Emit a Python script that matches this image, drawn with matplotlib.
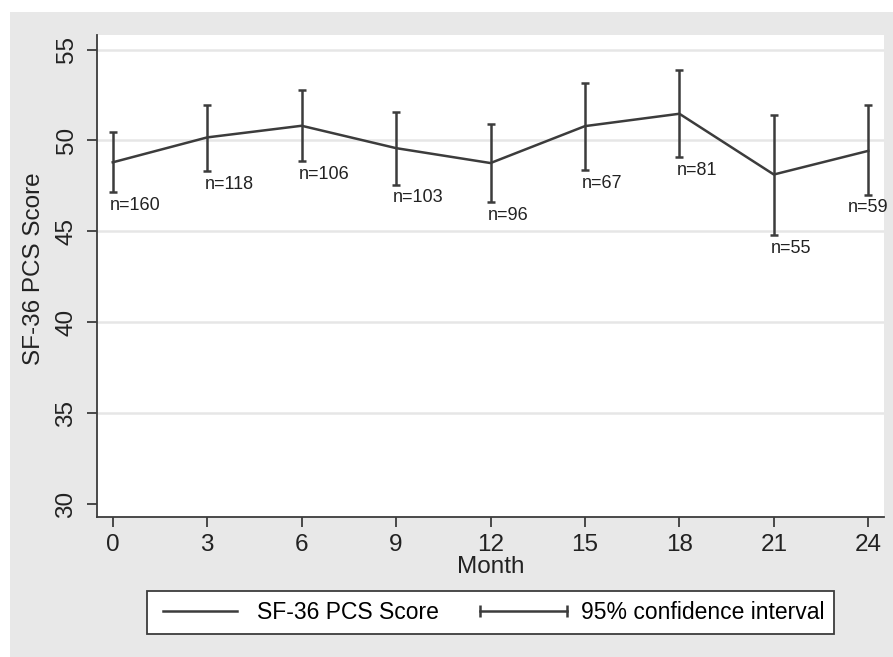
import matplotlib.pyplot as plt
from matplotlib.lines import Line2D
from matplotlib.patches import Rectangle
from matplotlib.legend_handler import HandlerLine2D

plt.rcParams['font.family'] = ['Liberation Sans', 'DejaVu Sans']

months = [0, 3, 6, 9, 12, 15, 18, 21, 24]
pcs_mean = [48.8, 50.17, 50.81, 49.58, 48.76, 50.79, 51.47, 48.13, 49.43]
ci_low = [47.16, 48.30, 48.88, 47.57, 46.62, 48.37, 49.07, 44.78, 47.02]
ci_high = [50.44, 51.96, 52.80, 51.59, 50.90, 53.17, 53.87, 51.40, 51.95]
n_obs = [160, 118, 106, 103, 96, 67, 81, 55, 59]
y_ticks = [30, 35, 40, 45, 50, 55]

dark = '#3c3c3c'
bg = '#e8e8e8'

fig = plt.figure(figsize=(8.93, 6.57), dpi=100, facecolor='white')
fig.patches.append(Rectangle((10 / 893, 0), 1, 1 - 12 / 657, transform=fig.transFigure,
                             facecolor=bg, edgecolor='none', zorder=-10))
ax = fig.add_axes([97 / 893, 1 - 517 / 657, (884 - 97) / 893, (517 - 35) / 657])
ax.set_facecolor('white')

for yv in y_ticks[1:]:
    ax.axhline(yv, color='#e6e6e6', lw=1.8, zorder=0)

lower = [m - lo for m, lo in zip(pcs_mean, ci_low)]
upper = [hi - m for m, hi in zip(pcs_mean, ci_high)]
ax.plot(months, pcs_mean, color=dark, lw=1.8, zorder=3)
ax.errorbar(months, pcs_mean, yerr=[lower, upper], fmt='none', ecolor=dark,
            elinewidth=1.8, capsize=3, capthick=1.8, zorder=3)

for i, (m, lo, n) in enumerate(zip(months, ci_low, n_obs)):
    dx = -15 if i == len(months) - 1 else -2
    ax.annotate(f'n={n}', (m, lo), xytext=(dx, -9.5), textcoords='offset points',
                ha='left', va='center', fontsize=13, color='#222222')

ax.set_xlim(-0.5, 24.5)
ax.set_ylim(29.3, 55.8)
ax.set_xticks(months)
ax.set_yticks(y_ticks)
ax.tick_params(axis='both', colors=dark, labelcolor='#222222', labelsize=17.5,
               length=7, width=1.3)
ax.tick_params(axis='x', pad=5)
ax.tick_params(axis='y', labelrotation=90, pad=7)
for lab in ax.get_yticklabels():
    lab.set_va('center')

for side in ['top', 'right']:
    ax.spines[side].set_visible(False)
for side in ['left', 'bottom']:
    ax.spines[side].set_color(dark)
    ax.spines[side].set_linewidth(1.3)

ax.set_xlabel('Month', fontsize=17.5, color='#222222', labelpad=0)
ax.set_ylabel('SF-36 PCS Score', fontsize=17.5, color='#222222')
ax.yaxis.set_label_coords(-0.066, 0.515)

line_handle = Line2D([], [], color=dark, lw=1.8)
ci_handle = Line2D([], [], color=dark, lw=1.8, marker='|', markersize=9, markeredgewidth=1.8)
leg = fig.legend([line_handle, ci_handle], ['SF-36 PCS Score', '95% confidence interval'],
                 loc='center', bbox_to_anchor=(490.5 / 893, 1 - 612.5 / 657), ncol=2,
                 fontsize=16.5, frameon=True, fancybox=False, numpoints=2,
                 handlelength=3.8, handletextpad=0.6, columnspacing=1.8,
                 borderpad=0.42, handler_map={ci_handle: HandlerLine2D(marker_pad=0)})
leg.get_frame().set_edgecolor(dark)
leg.get_frame().set_linewidth(1.3)
leg.get_frame().set_facecolor('white')
leg.get_frame().set_alpha(1)

fig.savefig('out.png', dpi=100, facecolor=fig.get_facecolor())
